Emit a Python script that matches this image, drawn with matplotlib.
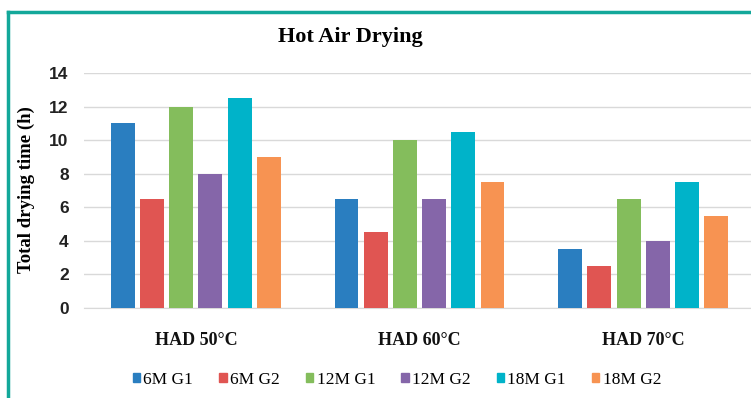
import matplotlib
matplotlib.use("Agg")
import matplotlib.pyplot as plt
import numpy as np
from matplotlib.lines import Line2D

categories = ["HAD 50°C", "HAD 60°C", "HAD 70°C"]
series_names = ["6M G1", "6M G2", "12M G1", "12M G2", "18M G1", "18M G2"]
g6m_g1 = [11, 6.5, 3.5]
g6m_g2 = [6.5, 4.5, 2.5]
g12m_g1 = [12, 10, 6.5]
g12m_g2 = [8, 6.5, 4]
g18m_g1 = [12.5, 10.5, 7.5]
g18m_g2 = [9, 7.5, 5.5]
y_ticks = [0, 2, 4, 6, 8, 10, 12, 14]

series = [g6m_g1, g6m_g2, g12m_g1, g12m_g2, g18m_g1, g18m_g2]
colors = ["#2A7EC0", "#E05552", "#84BD5C", "#8566A9", "#00B3C9", "#F79352"]

W, H = 751, 398
fig = plt.figure(figsize=(W / 100, H / 100), dpi=100)
fig.patch.set_facecolor("white")

# frame lines along the top and left
teal = "#13A89A"
fig.add_artist(Line2D([8 / W, 1.0], [1 - 12 / H, 1 - 12 / H],
                      transform=fig.transFigure, color=teal, lw=2.5))
fig.add_artist(Line2D([8 / W, 8 / W], [0, 1 - 12 / H],
                      transform=fig.transFigure, color=teal, lw=2.5))

ax = fig.add_axes([84 / W, 1 - 308 / H, 671 / W, (308 - 73) / H])
x = np.arange(len(categories))
pitch = 0.1305
width = 0.107
for i, (vals, name, c) in enumerate(zip(series, series_names, colors)):
    ax.bar(x + (i - 2.5) * pitch, vals, width=width, color=c, label=name, zorder=3)

ax.set_xlim(-0.5, 2.5)
ax.set_ylim(0, 14)
ax.set_yticks(y_ticks)
ax.set_yticklabels([str(t) for t in y_ticks], fontfamily="Liberation Sans",
                   fontweight="bold", fontsize=12.5, color="#222222")
ax.set_xticks(x)
ax.set_xticklabels(categories, fontfamily="Liberation Serif", fontweight="bold",
                   fontsize=13, color="#111111")
ax.tick_params(axis="both", length=0)
ax.tick_params(axis="y", pad=11)
ax.tick_params(axis="x", pad=17)
ax.grid(axis="y", color="#d9d9d9", lw=1, zorder=0)
for s in ["top", "right", "left"]:
    ax.spines[s].set_visible(False)
ax.spines["bottom"].set_color("#d9d9d9")

fig.text(26 / W, 1 - 190 / H, "Total drying time (h)", rotation=90,
         ha="center", va="center", fontfamily="Liberation Serif",
         fontweight="bold", fontsize=13.5)

fig.text(350 / W, 1 - 37 / H, "Hot Air Drying", ha="center", va="center",
         fontfamily="Liberation Serif", fontweight="bold", fontsize=16)

handles = [plt.Rectangle((0, 0), 1, 1, color=c) for c in colors]
fig.legend(handles, series_names, loc="center", bbox_to_anchor=(397 / W, 1 - 380 / H),
           ncol=6, frameon=False, handlelength=0.42, handleheight=0.42,
           handletextpad=0.2, columnspacing=1.5,
           prop={"family": "Liberation Serif", "size": 12.5})

fig.savefig("out.png", dpi=100)
